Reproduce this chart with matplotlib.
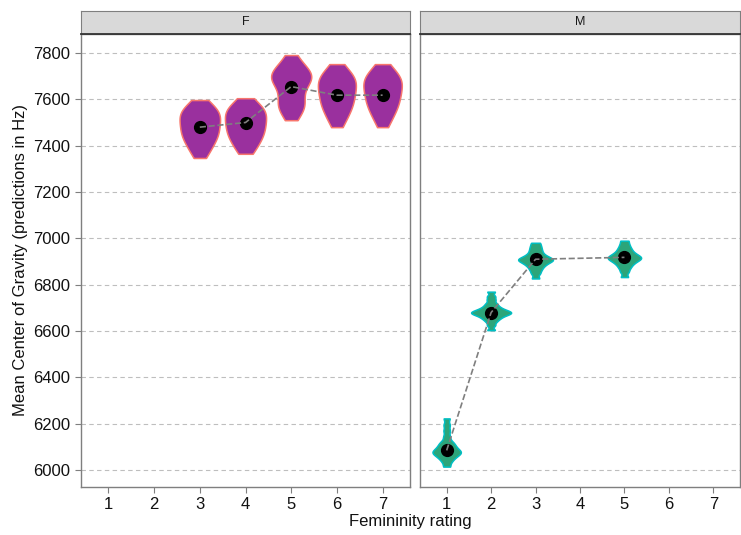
import matplotlib
matplotlib.use("Agg")
import matplotlib.pyplot as plt
import numpy as np

plt.rcParams['font.family'] = ['Liberation Sans', 'DejaVu Sans']

# predictions per femininity rating, female speakers
f_ratings = [3, 4, 5, 6, 7]
f_samples = [
    [7347, 7370, 7390, 7405, 7418, 7430, 7440, 7450, 7460, 7470, 7480, 7490, 7500, 7510,
     7520, 7530, 7538, 7546, 7554, 7563, 7578, 7597],
    [7365, 7390, 7410, 7425, 7440, 7452, 7464, 7476, 7488, 7500, 7512, 7524, 7536, 7546,
     7556, 7565, 7578, 7605],
    [7510, 7540, 7558, 7570, 7580, 7592, 7610, 7635, 7655, 7670, 7680, 7688, 7695, 7702,
     7710, 7718, 7728, 7740, 7762, 7791],
    [7480, 7510, 7530, 7548, 7562, 7575, 7588, 7600, 7612, 7624, 7636, 7648, 7660, 7670,
     7680, 7690, 7700, 7710, 7725, 7752],
    [7480, 7512, 7532, 7550, 7564, 7577, 7590, 7602, 7614, 7626, 7638, 7650, 7661, 7671,
     7681, 7691, 7701, 7711, 7726, 7752],
]
f_means = [7480, 7500, 7655, 7618, 7618]

# predictions per femininity rating, male speakers
m_ratings = [1, 2, 3, 5]
m_samples = [
    [6015, 6035, 6048, 6057, 6064, 6070, 6075, 6079, 6084, 6090, 6097, 6105, 6114, 6124,
     6145, 6170, 6195, 6223],
    [6604, 6625, 6640, 6650, 6657, 6663, 6668, 6672, 6675, 6678, 6681, 6684, 6687, 6691,
     6696, 6702, 6710, 6720, 6735, 6750, 6770],
    [6827, 6848, 6862, 6873, 6882, 6889, 6895, 6900, 6904, 6908, 6911, 6915, 6920, 6926,
     6934, 6944, 6955, 6967, 6981],
    [6833, 6855, 6870, 6881, 6890, 6897, 6903, 6908, 6912, 6916, 6920, 6924, 6929, 6935,
     6942, 6951, 6961, 6974, 6990],
]
m_means = [6085, 6680, 6910, 6918]

x_ticks = [1, 2, 3, 4, 5, 6, 7]
y_ticks = [6000, 6200, 6400, 6600, 6800, 7000, 7200, 7400, 7600, 7800]


def kde(vals, adjust=1.0, n=256):
    v = np.asarray(vals, float)
    iqr = np.subtract(*np.percentile(v, [75, 25]))
    bw = adjust * 0.9 * min(v.std(ddof=1), iqr / 1.34) * len(v) ** -0.2
    grid = np.linspace(v.min(), v.max(), n)
    d = np.exp(-0.5 * ((grid[:, None] - v[None, :]) / bw) ** 2).sum(1)
    d = d / (len(v) * bw * np.sqrt(2 * np.pi))
    return grid, d


def draw_panel(ax, ratings, samples, means, fill, edge, label, adjust):
    dens = [kde(s, adjust) for s in samples]
    dmax = max(d.max() for g, d in dens)
    for x, (g, d) in zip(ratings, dens):
        hw = 0.45 * d / dmax
        ax.fill_betweenx(g, x - hw, x + hw, facecolor=fill, edgecolor=edge,
                         linewidth=1.1, zorder=2)
    ax.plot(ratings, means, 'o', color='black', markersize=8.5, zorder=3)
    ax.plot(ratings, means, '--', color='#7f7f7f', linewidth=1.2, zorder=4)

    ax.set_xlim(0.4, 7.6)
    ax.set_ylim(5927, 7882)
    ax.set_xticks(x_ticks)
    ax.set_yticks(y_ticks)
    ax.grid(axis='y', linestyle=(0, (4, 3)), color='#bebebe', linewidth=0.8)
    ax.set_axisbelow(True)
    for s in ax.spines.values():
        s.set_color('#7f7f7f')
        s.set_linewidth(1.0)
    ax.tick_params(colors='#7f7f7f', labelcolor='#111111', labelsize=12, length=4)

    # facet strip
    strip = ax.inset_axes([0, 1.0, 1, 0.0508])
    strip.set_facecolor('#d9d9d9')
    strip.set_xticks([])
    strip.set_yticks([])
    for s in strip.spines.values():
        s.set_color('#7f7f7f')
    strip.spines['bottom'].set_color('#333333')
    strip.spines['bottom'].set_linewidth(1.3)
    strip.text(0.5, 0.5, label, ha='center', va='center', fontsize=9, color='#1a1a1a')


fig = plt.figure(figsize=(7.41, 5.35), dpi=100)
ax1 = fig.add_axes([81 / 741, 1 - 487 / 535, 329 / 741, 453 / 535])
ax2 = fig.add_axes([420 / 741, 1 - 487 / 535, 320 / 741, 453 / 535], sharey=ax1)

draw_panel(ax1, f_ratings, f_samples, f_means, '#9a309e', '#f8766d', 'F', 1.0)
draw_panel(ax2, m_ratings, m_samples, m_means, '#2ca57a', '#00bfc4', 'M', 0.5)
ax2.tick_params(axis='y', left=False, labelleft=False)

ax1.set_ylabel('Mean Center of Gravity (predictions in Hz)', fontsize=12, color='#111111')
fig.text((81 + 740) / 2 / 741, 0.012, 'Femininity rating', ha='center', va='bottom',
         fontsize=12, color='#111111')

fig.savefig('out.png', dpi=100)
